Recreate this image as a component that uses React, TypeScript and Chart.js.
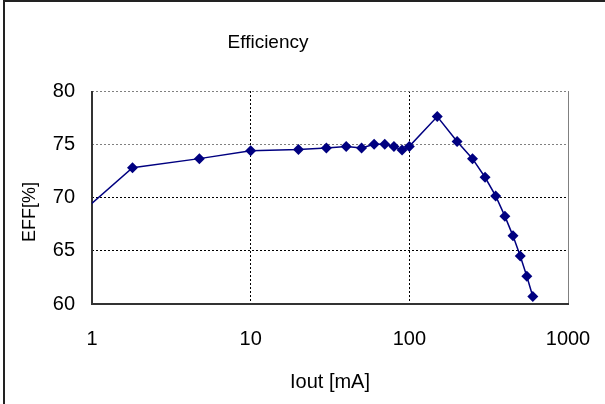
import React, { useEffect, useRef } from "react";
import { Chart, registerables } from "chart.js";

Chart.register(...registerables);

// Iout [mA]
const ioutValues = [0.8, 1.8, 4.75, 10, 20, 30, 40, 50, 60, 70, 80, 90, 100, 150, 200, 250, 300, 350, 400, 450, 500, 550, 600];
// Efficiency [%]
const effValues = [68.2, 72.8, 73.65, 74.4, 74.5, 74.65, 74.8, 74.65, 75.0, 75.0, 74.8, 74.45, 74.8, 77.6, 75.25, 73.65, 71.9, 70.15, 68.25, 66.4, 64.5, 62.6, 60.7];

const xTickValues = [1, 10, 100, 1000];
const yTickValues = [60, 65, 70, 75, 80];

const chartTitle = "Efficiency";
const xAxisTitle = "Iout [mA]";
const yAxisTitle = "EFF[%]";

const FONT = "'Liberation Sans', Arial, sans-serif";

const decorPlugin = {
  id: "decor",
  beforeDatasetsDraw(chart: any) {
    const { ctx, chartArea } = chart;
    const { left, right, top, bottom } = chartArea;
    ctx.save();
    ctx.strokeStyle = "#808080";
    ctx.lineWidth = 1;
    ctx.beginPath();
    ctx.moveTo(Math.round(right) + 0.5, top);
    ctx.lineTo(Math.round(right) + 0.5, bottom);
    ctx.stroke();
    ctx.strokeStyle = "#333333";
    ctx.lineWidth = 2;
    ctx.beginPath();
    ctx.moveTo(Math.round(left), top);
    ctx.lineTo(Math.round(left), Math.round(bottom));
    ctx.lineTo(Math.round(right) + 1, Math.round(bottom));
    ctx.stroke();
    ctx.restore();
  },
  afterDraw(chart: any) {
    const { ctx } = chart;
    ctx.save();
    ctx.strokeStyle = "#222222";
    ctx.lineWidth = 2;
    ctx.beginPath();
    ctx.moveTo(4, 420);
    ctx.lineTo(4, 1);
    ctx.lineTo(620, 1);
    ctx.stroke();
    ctx.fillStyle = "#000";
    ctx.font = `19px ${FONT}`;
    ctx.textAlign = "center";
    ctx.textBaseline = "middle";
    ctx.fillText(chartTitle, 268, 43);
    ctx.translate(30, 212);
    ctx.rotate(-Math.PI / 2);
    ctx.font = `18px ${FONT}`;
    ctx.fillText(yAxisTitle, 0, 0);
    ctx.restore();
  },
};

export default function App() {
  const canvasRef = useRef<HTMLCanvasElement | null>(null);

  useEffect(() => {
    document.body.style.margin = "0";
    document.documentElement.style.overflow = "hidden";
    document.body.style.overflow = "hidden";
    const canvas = canvasRef.current;
    if (!canvas) return;
    const chart = new Chart(canvas, {
      type: "line",
      data: {
        datasets: [
          {
            data: ioutValues.map((x, i) => ({ x, y: effValues[i] })),
            borderColor: "#000080",
            backgroundColor: "#000080",
            borderWidth: 1.5,
            pointStyle: "rectRot",
            pointRadius: 5.5,
            pointBorderWidth: 0,
            pointBackgroundColor: "#000080",
            pointBorderColor: "#000080",
            tension: 0,
            fill: false,
          },
        ],
      },
      options: {
        animation: false,
        responsive: true,
        maintainAspectRatio: false,
        layout: { padding: { left: 0, right: 37, top: 91, bottom: 0 } },
        plugins: {
          legend: { display: false },
          title: { display: false },
          tooltip: { enabled: false },
        },
        scales: {
          x: {
            type: "logarithmic",
            min: 1,
            max: 1000,
            afterBuildTicks: (scale: any) => {
              scale.ticks = xTickValues.map((v) => ({ value: v }));
            },
            afterFit: (scale: any) => {
              scale.height = 100;
              scale.paddingLeft = 0;
              scale.paddingRight = 0;
            },
            ticks: {
              color: "#000",
              font: { family: FONT, size: 20 },
              padding: 23,
              maxRotation: 0,
              autoSkip: false,
              callback: (v: any) => String(v),
            },
            grid: {
              color: "#000",
              lineWidth: 1,
              drawTicks: false,
            },
            border: { display: false, dash: [2, 2] },
            title: {
              display: true,
              text: xAxisTitle,
              color: "#000",
              font: { family: FONT, size: 20 },
              padding: { top: 0, bottom: 10 },
            },
          },
          y: {
            type: "linear",
            min: 60,
            max: 80,
            afterBuildTicks: (scale: any) => {
              scale.ticks = yTickValues.map((v) => ({ value: v }));
            },
            afterFit: (scale: any) => {
              scale.width = 92;
              scale.paddingTop = 0;
              scale.paddingBottom = 0;
            },
            ticks: {
              color: "#000",
              font: { family: FONT, size: 20 },
              padding: 17,
              callback: (v: any) => String(v),
            },
            grid: {
              color: (ctx: any) => (ctx.tick && ctx.tick.value >= 75 ? "#808080" : "#000"),
              lineWidth: 1,
              drawTicks: false,
            },
            border: { display: false, dash: [2, 2] },
          },
        },
      },
      plugins: [decorPlugin],
    });
    return () => chart.destroy();
  }, []);

  return (
    <div style={{ position: "absolute", left: 0, top: 0, width: 605, height: 404, overflow: "hidden", background: "#fff" }}>
      <canvas ref={canvasRef} style={{ display: "block" }} />
    </div>
  );
}
